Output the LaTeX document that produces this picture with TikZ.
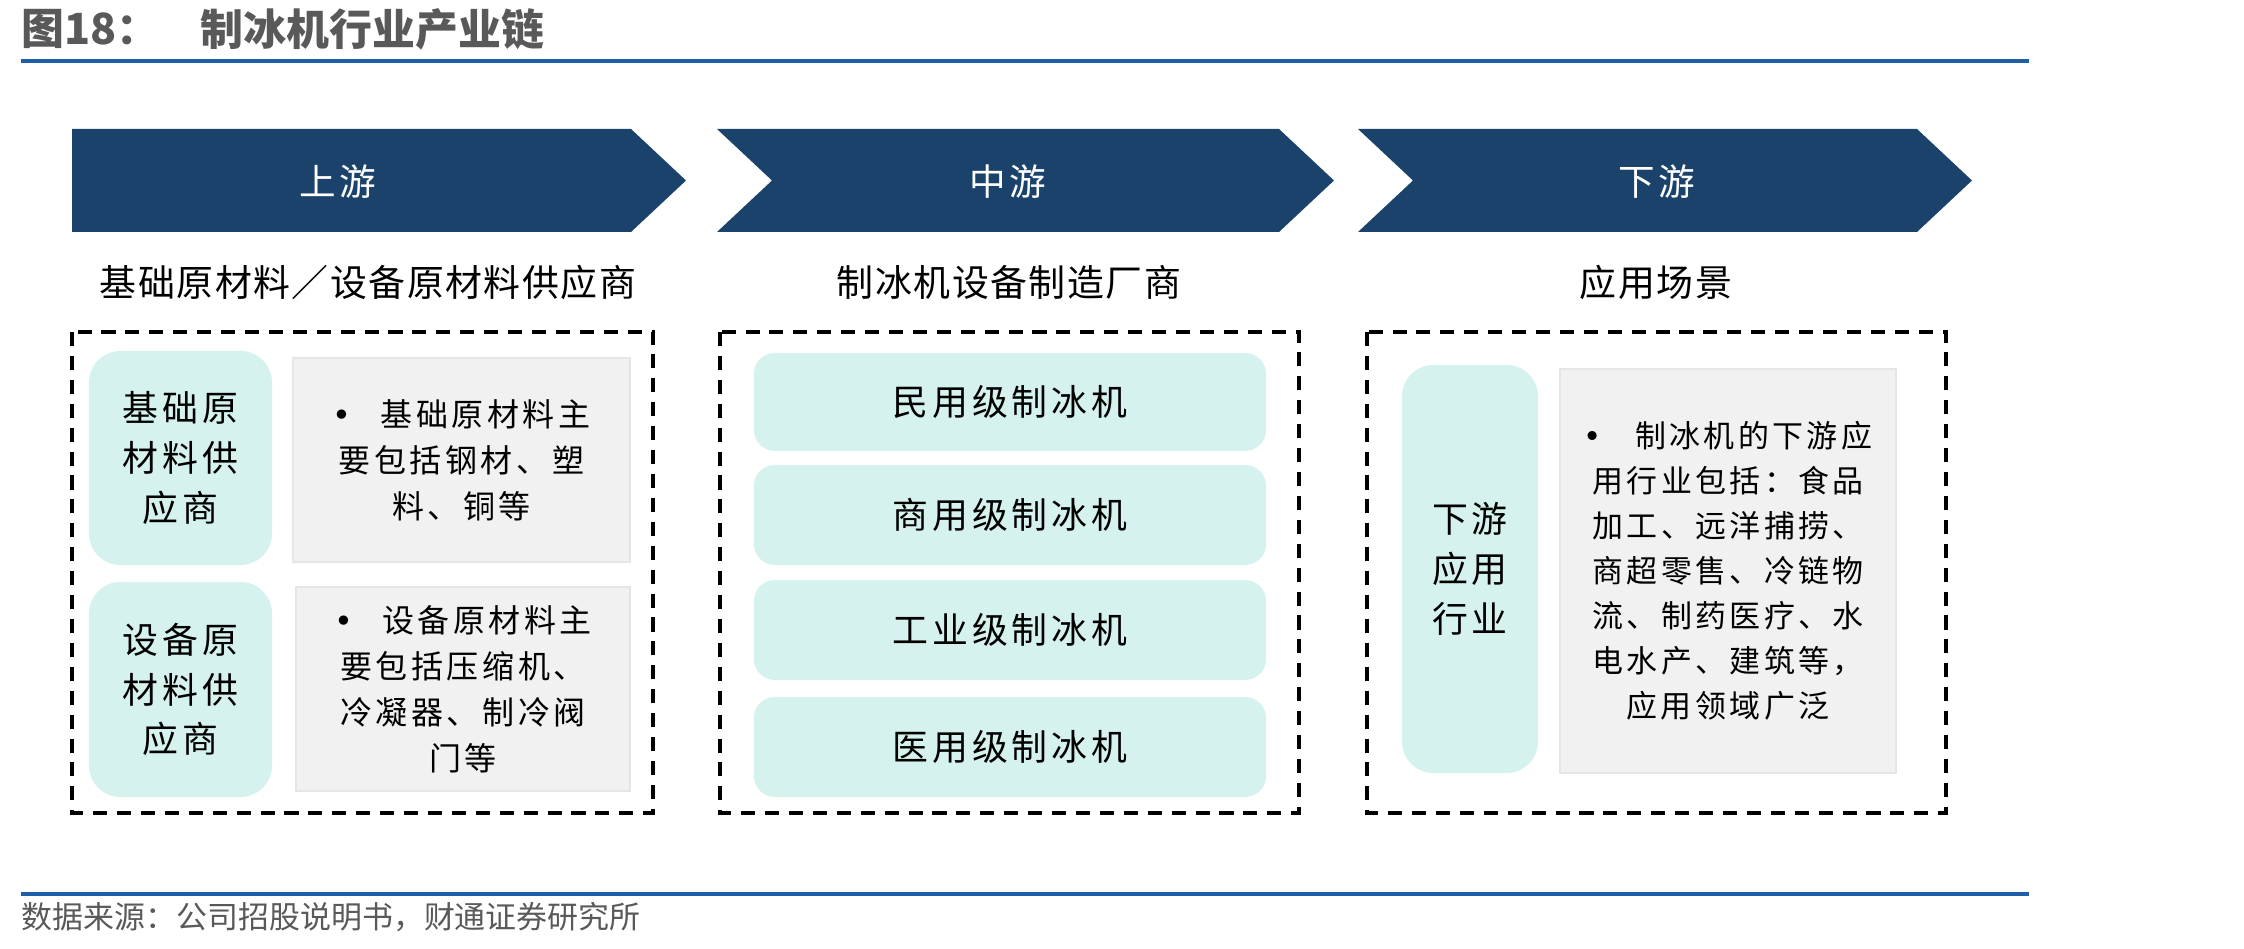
\documentclass[tikz,border=0pt]{standalone}
\usepackage{fontspec}
\setmainfont{Noto Sans CJK SC}
\newfontfamily\cjk{Noto Sans CJK SC}
\newfontfamily\lsA{Noto Sans CJK SC}[LetterSpace=11]
\newfontfamily\lsB{Noto Sans CJK SC}[LetterSpace=8]
\newfontfamily\lsC{Noto Sans CJK SC}[LetterSpace=4]
\newfontfamily\dvs{DejaVu Sans}
\newcommand{\bul}[1]{\makebox[#1][l]{\dvs •}}
\definecolor{chev}{RGB}{26,66,107}
\definecolor{tealbox}{RGB}{213,242,238}
\definecolor{graybox}{RGB}{241,241,241}
\definecolor{titlegray}{RGB}{89,89,89}
\definecolor{rulecol}{RGB}{31,95,170}
\tikzset{
  chevshape/.style={fill=chev},
  chevtext/.style={text=white, font=\lsB\fontsize{10.4pt}{12pt}\selectfont, inner sep=0},
  subtitle/.style={text=black, font=\lsC\fontsize{10.5pt}{12pt}\selectfont, inner sep=0},
  dashbox/.style={draw=black, line width=1.2pt, dash pattern=on 4pt off 2.8pt},
  tealnode/.style={fill=tealbox, rounded corners=8pt, align=center, inner sep=0,
    font=\lsA\fontsize{10.2pt}{14.2pt}\selectfont},
  graynode/.style={fill=graybox, draw=black!10, line width=0.6pt, align=center, inner sep=0,
    font=\lsA\fontsize{9.1pt}{13.1pt}\selectfont},
}
\begin{document}
\begin{tikzpicture}[x=0.01cm, y=-0.01cm]
\useasboundingbox (0,0) rectangle (2244,949);

% title
\node[anchor=west, text=titlegray, font=\cjk\bfseries\fontsize{12.2pt}{14pt}\selectfont, inner sep=0] (fig) at (21,29) {图18：};
\node[anchor=west, text=titlegray, font=\cjk\bfseries\fontsize{12.2pt}{14pt}\selectfont, inner sep=0] (title) at (200,29) {制冰机行业产业链};
\coordinate (r1a) at (21,61);
\coordinate (r1b) at (2029,61);
\draw[rulecol, line width=0.9pt] (r1a) -- (r1b);

% chevrons
\fill[chevshape] (72,129) -- (631,129) -- (686,180.5) -- (631,232) -- (72,232) -- cycle;
\fill[chevshape] (717,129) -- (1279,129) -- (1334,180.5) -- (1279,232) -- (717,232) -- (772,180.5) -- cycle;
\fill[chevshape] (1358,129) -- (1917,129) -- (1972,180.5) -- (1917,232) -- (1358,232) -- (1413,180.5) -- cycle;
\node[chevtext] (c1) at (338,182) {上游};
\node[chevtext] (c2) at (1008,182) {中游};
\node[chevtext] (c3) at (1657,182) {下游};

% subtitles
\node[subtitle] (s1) at (368,282) {基础原材料／设备原材料供应商};
\node[subtitle] (s2) at (1009,282) {制冰机设备制造厂商};
\node[subtitle] (s3) at (1656,282) {应用场景};

% dashed containers
\draw[dashbox] (72,332) rectangle (653,813);
\draw[dashbox] (720,332) rectangle (1299,813);
\draw[dashbox] (1367,332) rectangle (1946,813);

% upstream
\node[tealnode, minimum width=1.83cm, minimum height=2.14cm, rounded corners=9pt] (ta) at (180.5,458) {基础原\\材料供\\应商};
\node[graynode, minimum width=3.37cm, minimum height=2.04cm] (ga) at (461.5,460)
  {\bul{1.5em}基础原材料主\\要包括钢材、塑\\料、铜等};
\node[tealnode, minimum width=1.83cm, minimum height=2.15cm, rounded corners=9pt] (tb) at (180.5,689.5) {设备原\\材料供\\应商};
\node[graynode, minimum width=3.34cm, minimum height=2.04cm] (gb) at (463,689)
  {\bul{1.5em}设备原材料主\\要包括压缩机、\\冷凝器、制冷阀\\门等};

% midstream
\node[tealnode, minimum width=5.12cm, minimum height=0.98cm, rounded corners=6pt] (m1) at (1010,402) {民用级制冰机};
\node[tealnode, minimum width=5.12cm, minimum height=1.0cm, rounded corners=6pt] (m2) at (1010,515) {商用级制冰机};
\node[tealnode, minimum width=5.12cm, minimum height=1.0cm, rounded corners=6pt] (m3) at (1010,630) {工业级制冰机};
\node[tealnode, minimum width=5.12cm, minimum height=1.0cm, rounded corners=6pt] (m4) at (1010,747) {医用级制冰机};

% downstream
\node[tealnode, minimum width=1.36cm, minimum height=4.08cm, rounded corners=9pt] (td) at (1470,569) {下游\\应用\\行业};
\node[graynode, minimum width=3.36cm, minimum height=4.04cm, font=\lsA\fontsize{8.8pt}{12.8pt}\selectfont] (gd) at (1728,571)
  {\bul{1.65em}制冰机的下游应\\用行业包括：食品\\加工、远洋捕捞、\\商超零售、冷链物\\流、制药医疗、水\\电水产、建筑等，\\应用领域广泛};

% source
\coordinate (r2a) at (21,894);
\coordinate (r2b) at (2029,894);
\draw[rulecol, line width=0.9pt] (r2a) -- (r2b);
\node[anchor=west, text=titlegray, font=\cjk\fontsize{8.8pt}{10pt}\selectfont, inner sep=0] (src) at (21,917) {数据来源：公司招股说明书，财通证券研究所};
\end{tikzpicture}
\end{document}
